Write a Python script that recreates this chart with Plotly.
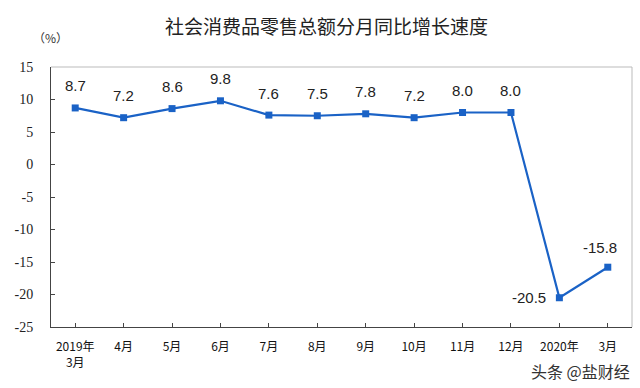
import plotly.graph_objects as go

categories = ["2019年<br>3月", "4月", "5月", "6月", "7月", "8月", "9月", "10月", "11月", "12月", "2020年", "3月"]
values = [8.7, 7.2, 8.6, 9.8, 7.6, 7.5, 7.8, 7.2, 8.0, 8.0, -20.5, -15.8]
labels = ["8.7", "7.2", "8.6", "9.8", "7.6", "7.5", "7.8", "7.2", "8.0", "8.0", "-20.5", "-15.8"]
y_ticks = [15, 10, 5, 0, -5, -10, -15, -20, -25]
y_ticktext = ["15", "10", "5", "0", "-5", "-10", "-15", "-20", "-25"]

blue = "#1a62c6"
xs = list(range(len(categories)))
fig = go.Figure()
fig.add_trace(go.Scatter(
    x=xs, y=values, mode="lines+markers",
    line=dict(color=blue, width=2.2),
    marker=dict(symbol="square", size=7, color=blue),
    cliponaxis=False, showlegend=False, hoverinfo="skip",
))

label_annotations = []
for i, (xv, yv, t) in enumerate(zip(xs, values, labels)):
    if i == 10:
        xshift, yshift = -30, 0
    elif i == 11:
        xshift, yshift = -8, 20
    else:
        xshift, yshift = 0, 22
    label_annotations.append(dict(
        x=xv, y=yv, xref="x", yref="y", text=t, showarrow=False,
        xshift=xshift, yshift=yshift, xanchor="center", yanchor="middle",
        font=dict(family="Liberation Sans, Arial", size=15, color="#222"),
    ))

fig.update_layout(
    template="none",
    width=640, height=388,
    margin=dict(l=51, r=8, t=67, b=61, autoexpand=False),
    paper_bgcolor="white", plot_bgcolor="white",
    title=dict(text="社会消费品零售总额分月同比增长速度", x=0.51, xanchor="center", y=0.93, yanchor="middle",
               font=dict(family="Noto Sans CJK SC", size=19, color="#222")),
    xaxis=dict(
        tickmode="array", tickvals=xs, ticktext=categories,
        range=[-0.5, 11.5], showgrid=False, zeroline=False, automargin=False,
        showline=True, linecolor="#444", linewidth=1,
        ticks="inside", ticklen=4, tickcolor="#444", tickson="boundaries",
        ticklabelstandoff=9,
        tickfont=dict(family="Noto Sans CJK SC", size=12, color="#111"),
    ),
    yaxis=dict(
        range=[-25, 15], tickmode="array", tickvals=y_ticks, ticktext=y_ticktext,
        showgrid=False, zeroline=False, automargin=False,
        showline=True, linecolor="#444", linewidth=1,
        ticks="inside", ticklen=4, tickcolor="#444",
        ticklabelstandoff=14,
        tickfont=dict(family="Liberation Serif", size=14, color="#222"),
    ),
    shapes=[
        dict(type="line", xref="paper", yref="paper", x0=0, x1=1, y0=1, y1=1, line=dict(color="#bbb", width=1)),
        dict(type="line", xref="paper", yref="paper", x0=1, x1=1, y0=0, y1=1, line=dict(color="#bbb", width=1)),
    ],
    annotations=label_annotations + [
        dict(text="（%）", xref="paper", yref="paper", x=-0.035, y=1.115, xanchor="left", yanchor="middle",
             showarrow=False, font=dict(family="Noto Sans CJK SC", size=12, color="#333")),
        dict(text="头条 @盐财经", xref="paper", yref="paper", x=1.0, y=-0.17, xanchor="right", yanchor="middle",
             showarrow=False, font=dict(family="Noto Sans CJK SC", size=16, color="#333")),
    ],
)

fig.write_html("out.html", config={"displayModeBar": False},
               post_script="document.body.style.margin='0';document.body.style.overflow='hidden';")
